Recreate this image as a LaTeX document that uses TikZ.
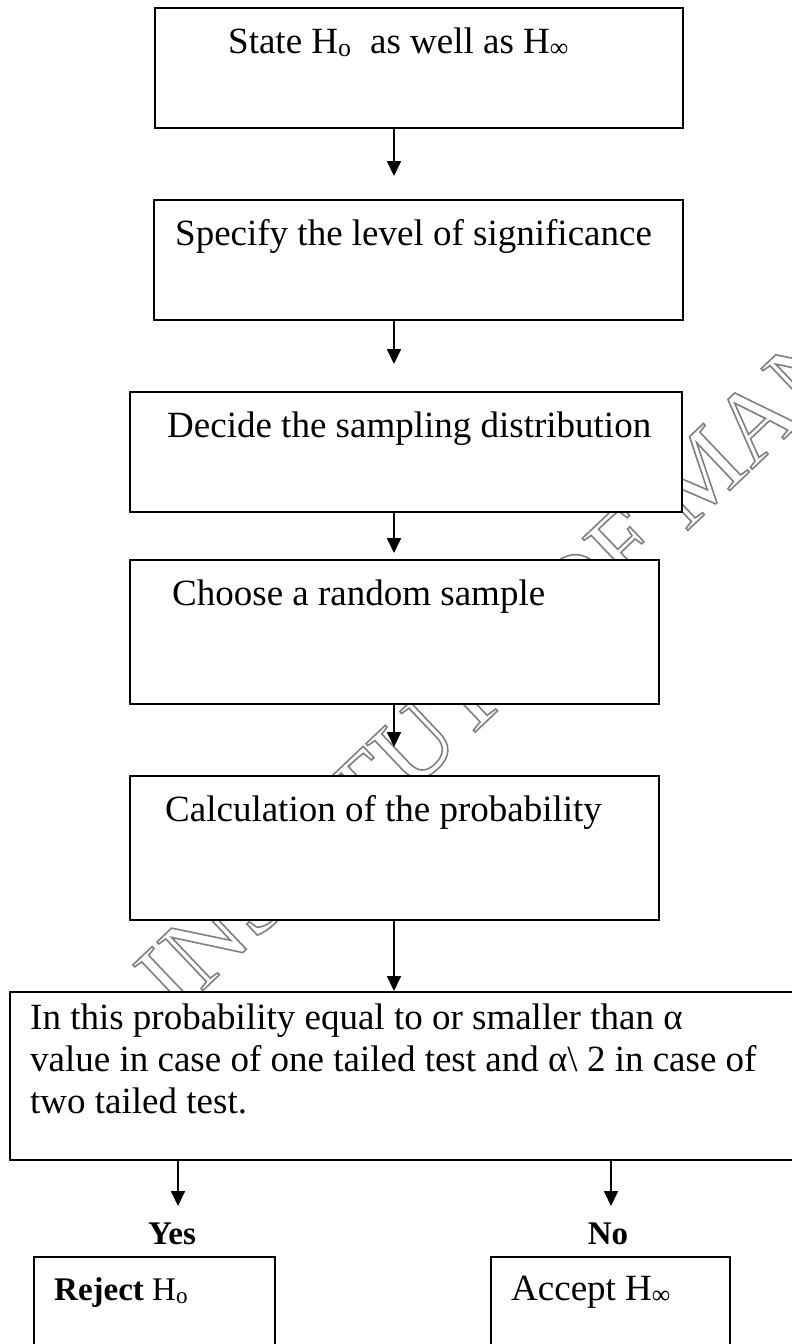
\documentclass[tikz,border=0pt]{standalone}
\usepackage{fontspec}
\setmainfont{Liberation Serif}
\usetikzlibrary{arrows.meta}
\newcommand\Ho{H\textsubscript{o}}
\newcommand\Hinf{H\textsubscript{∞}}
\newcommand\outlinetext[1]{\special{pdf:literal direct 1 Tr 1.6 w}#1\special{pdf:literal direct 0 Tr 1 w}}
\begin{document}
\begin{tikzpicture}[x=1pt,y=1pt,
  box/.style={draw, line width=2pt, fill=white, anchor=north west, inner sep=0pt},
  txt/.style={anchor=base west, inner sep=0pt, font=\fontsize{37}{42}\selectfont},
  smalltxt/.style={anchor=base west, inner sep=0pt, font=\fontsize{33}{38}\selectfont},
  yn/.style={anchor=base, inner sep=0pt, font=\fontsize{33}{38}\selectfont\bfseries},
  wm/.style={anchor=base west, inner sep=0pt, rotate=43.5, text=black!50, font=\fontsize{102}{110}\selectfont},
  arr/.style={line width=1.7pt, -{Triangle[length=15pt,width=14pt]}}]
\useasboundingbox (0,0) rectangle (792,-1344);
\clip (0,0) rectangle (792,-1344);
\fill[white] (0,0) rectangle (792,-1344);
% watermark (behind the boxes)
\node[wm] (wmark) at (176,-1016) {\outlinetext{INSTITUTE OF MANAGEMENT}};
% boxes
\node[box, minimum width=528pt, minimum height=120pt] (b1) at (154,-7) {};
\node[box, minimum width=529pt, minimum height=120pt] (b2) at (153,-199) {};
\node[box, minimum width=552pt, minimum height=120pt] (b3) at (129,-391) {};
\node[box, minimum width=529pt, minimum height=144pt] (b4) at (129,-559) {};
\node[box, minimum width=529pt, minimum height=144pt] (b5) at (129,-775) {};
\node[box, minimum width=820pt, minimum height=168pt] (b6) at (9,-991) {};
\node[box, minimum width=241pt, minimum height=110pt] (b7) at (33,-1256) {};
\node[box, minimum width=239pt, minimum height=110pt] (b8) at (490,-1256) {};
% texts
\node[txt] (l1) at (228,-53) {State \Ho\ \ as well as \Hinf};
\node[txt] (l2) at (175,-245) {Specify the level of significance};
\node[txt] (l3) at (167,-437) {Decide the sampling distribution};
\node[txt] (l4) at (172,-605) {Choose a random sample};
\node[txt] (l5) at (165,-821) {Calculation of the probability};
\node[txt, align=left] (l6) at (30,-1113) {In this probability equal to or smaller than α\\value in case of one tailed test and α\textbackslash\ 2 in case of\\two tailed test.};
\node[yn] (yes) at (172,-1244) {Yes};
\node[yn] (no) at (608,-1244) {No};
\node[smalltxt] (l7) at (54,-1300) {\textbf{Reject} \Ho};
\node[txt] (l8) at (511,-1300) {Accept \Hinf};
% arrows
\coordinate (e1) at (394,-176);
\coordinate (e2) at (394,-364);
\coordinate (e3) at (394,-553);
\coordinate (e4) at (394,-747);
\coordinate (x5) at (394,0);
\coordinate (e6) at (178,-1206);
\coordinate (e7) at (611,-1206);
\draw[arr] (b1.south -| e1) -- (e1);
\draw[arr] (b2.south -| e2) -- (e2);
\draw[arr] (b3.south -| e3) -- (e3);
\draw[arr] (b4.south -| e4) -- (e4);
\draw[arr] (b5.south -| x5) -- (b6.north -| x5);
\draw[arr] (b6.south -| e6) -- (e6);
\draw[arr] (b6.south -| e7) -- (e7);
\end{tikzpicture}
\end{document}
